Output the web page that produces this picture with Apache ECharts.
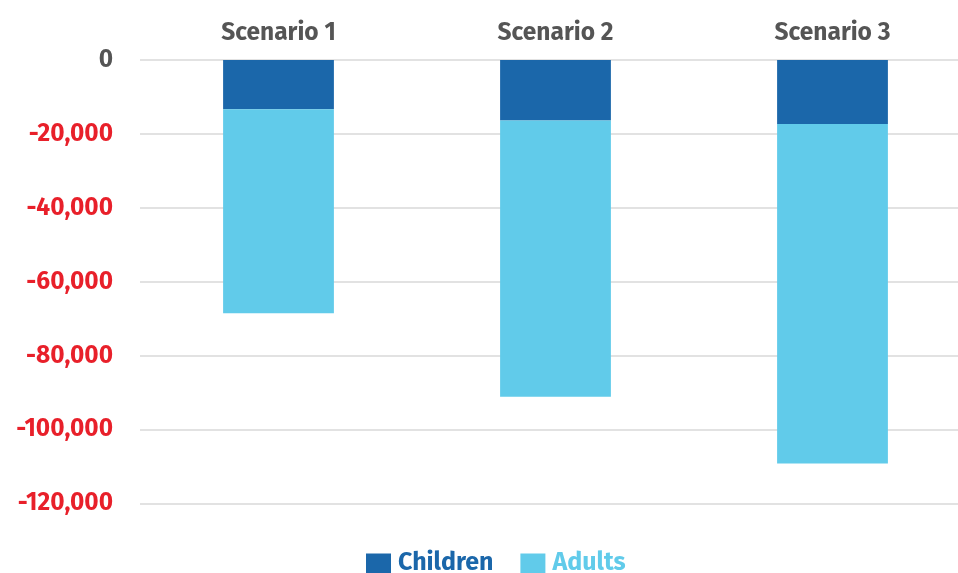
<!DOCTYPE html>
<html>
<head>
<meta charset="utf-8">
<script src="https://cdn.jsdelivr.net/npm/echarts@6/dist/echarts.min.js"></script>
<style>
  html, body { margin: 0; padding: 0; background: #fff; }
  #chart { width: 958px; height: 573px; }
</style>
</head>
<body>
<div id="chart"></div>
<script>
// Change in population by scenario (negative = reduction)
const categories = ['Scenario 1', 'Scenario 2', 'Scenario 3'];
const children = [-13300, -16400, -17300];
const adults = [-55200, -74700, -91900];
const seriesNames = ['Children', 'Adults'];
const colors = ['#1b67aa', '#61cbea'];

const FONT = '"Fira Sans", "Open Sans", "Noto Sans", sans-serif';

const chart = echarts.init(document.getElementById('chart'), null, { renderer: 'canvas' });

function fmt(v) {
  const s = Math.abs(v).toString().replace(/\B(?=(\d{3})+(?!\d))/g, ',');
  return v < 0 ? '-' + s : s;
}

chart.setOption({
  animation: false,
  textStyle: { fontFamily: FONT },
  grid: { left: 140, top: 60, width: 831, height: 443.5, containLabel: false, outerBoundsMode: 'none' },
  legend: {
    top: 546,
    left: 361,
    itemWidth: 25,
    itemHeight: 20,
    itemGap: 27,
    icon: 'rect',
    data: seriesNames.map((n, i) => ({
      name: n,
      textStyle: { color: colors[i], fontWeight: 'bold', fontSize: 25, fontFamily: FONT, padding: [0, 0, 0, 2] }
    }))
  },
  xAxis: {
    type: 'category',
    position: 'top',
    data: categories,
    axisLine: { show: false },
    axisTick: { show: false },
    axisLabel: { color: '#555555', fontWeight: 'bold', fontSize: 24.5, margin: 14, fontFamily: FONT }
  },
  yAxis: {
    type: 'value',
    min: -120000,
    max: 0,
    interval: 20000,
    axisLine: { show: false },
    axisTick: { show: false },
    splitLine: { lineStyle: { color: '#d9d9d9', width: 1.5 } },
    axisLabel: {
      margin: 27,
      formatter: v => (v < 0 ? '{neg|' + fmt(v) + '}' : '{zero|' + fmt(v) + '}'),
      rich: {
        neg: { color: '#e8202a', fontWeight: 'bold', fontSize: 24.5, fontFamily: FONT },
        zero: { color: '#555555', fontWeight: 'bold', fontSize: 24.5, fontFamily: FONT }
      }
    }
  },
  series: [
    {
      name: seriesNames[0], type: 'bar', stack: 'total', data: children,
      barWidth: '40%', itemStyle: { color: colors[0] }
    },
    {
      name: seriesNames[1], type: 'bar', stack: 'total', data: adults,
      barWidth: '40%', itemStyle: { color: colors[1] }
    }
  ]
});
</script>
</body>
</html>
